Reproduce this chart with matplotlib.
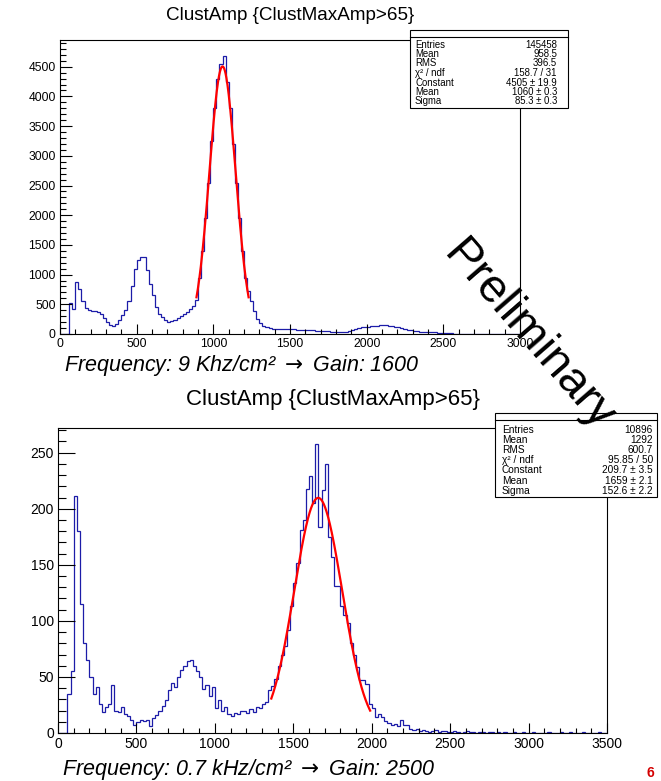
import numpy as np
import matplotlib
matplotlib.use("Agg")
import matplotlib.pyplot as plt
from matplotlib.patches import Rectangle
from matplotlib.lines import Line2D
from matplotlib.ticker import MultipleLocator

plt.rcParams['font.family'] = ['Liberation Sans', 'DejaVu Sans']

W, H = 661, 781

# ---- data: top histogram (bin width 20, 0..3000) ----
top_edges = np.arange(0, 3001, 20)
top_counts = [
    0, 0, 0, 520, 420, 880, 760, 560, 440, 400,
    395, 385, 370, 330, 270, 200, 145, 140, 170, 230,
    320, 400, 560, 800, 1100, 1250, 1300, 1290, 1080, 850,
    650, 460, 340, 280, 235, 210, 215, 240, 270, 300,
    330, 370, 420, 470, 580, 950, 1400, 1950, 2550, 3250,
    3800, 4300, 4550, 4680, 4250, 3800, 3200, 2550, 1950, 1400,
    950, 720, 560, 380, 260, 190, 140, 110, 95, 90,
    88, 86, 85, 84, 82, 80, 78, 75, 72, 70,
    66, 62, 60, 56, 52, 50, 48, 45, 42, 40,
    38, 36, 35, 38, 45, 60, 80, 100, 110, 120,
    125, 130, 135, 140, 145, 150, 145, 140, 130, 120,
    110, 95, 80, 70, 60, 52, 45, 40, 35, 32,
    30, 28, 26, 25, 24, 22, 18, 10, 4, 2,
    0, 0, 0, 0, 0, 0, 0, 0, 0, 0,
    0, 0, 0, 0, 0, 0, 0, 0, 0, 0,
]
top_fit = (4505, 1060, 85.3)
top_fit_range = (890, 1230)
top_stats = [("Entries", "145458"), ("Mean", "958.5"), ("RMS", "396.5"),
             ("χ² / ndf", "158.7 / 31"), ("Constant", "4505 ± 19.9"),
             ("Mean", "1060 ± 0.3"), ("Sigma", "85.3 ± 0.3")]

# ---- data: bottom histogram (bin width 20, 0..3500) ----
bot_edges = np.arange(0, 3501, 20)
bot_counts = [
    0, 0, 0, 35, 55, 211, 180, 115, 80, 65,
    50, 35, 41, 26, 19, 23, 26, 43, 20, 19,
    23, 17, 15, 12, 7, 10, 12, 11, 12, 6,
    13, 16, 20, 24, 29, 38, 45, 41, 50, 56,
    60, 64, 65, 60, 55, 50, 39, 43, 33, 41,
    22, 29, 20, 23, 17, 15, 18, 17, 20, 20,
    18, 21, 19, 23, 22, 26, 28, 38, 42, 48,
    60, 70, 78, 92, 113, 134, 152, 181, 190, 218,
    229, 205, 258, 184, 217, 240, 175, 157, 131, 131,
    113, 105, 98, 80, 70, 59, 47, 47, 44, 26,
    22, 14, 17, 14, 11, 9, 7, 8, 6, 12,
    7, 7, 4, 3, 4,
    2, 3, 2, 1, 2, 3, 1, 2, 2, 1,
    1, 2, 1, 0, 1, 2, 1, 1, 0, 1,
    1, 0, 1, 1, 0, 1, 0, 1, 0, 0,
    1, 0, 0, 1, 0, 0, 1, 0, 0, 0,
    0, 1, 0, 0, 0, 1, 0, 0, 1, 0,
    0, 0, 1, 0, 0, 0, 0, 1, 0, 0,
]
bot_fit = (209.7, 1659, 152.6)
bot_fit_range = (1360, 1990)
bot_stats = [("Entries", "10896"), ("Mean", "1292"), ("RMS", "600.7"),
             ("χ² / ndf", "95.85 / 50"), ("Constant", "209.7 ± 3.5"),
             ("Mean", "1659 ± 2.1"), ("Sigma", "152.6 ± 2.2")]

title = "ClustAmp {ClustMaxAmp>65}"
top_caption = "Frequency: 9 Khz/cm² $\\rightarrow$ Gain: 1600"
bot_caption = "Frequency: 0.7 kHz/cm² $\\rightarrow$ Gain: 2500"


def fx(x):
    return x / W


def fy(y):
    return 1 - y / H


def panel(fig, box, edges, counts, fit, fit_range, xlim, ylim, ymaj, ymin,
          lab_size, ylen):
    x0, y0, x1, y1 = box
    ax = fig.add_axes([fx(x0), fy(y1), (x1 - x0) / W, (y1 - y0) / H])
    ax.stairs(counts, edges, color='#1c1ca8', lw=0.9)
    c, m, s = fit
    xf = np.linspace(fit_range[0], fit_range[1], 300)
    ax.plot(xf, c * np.exp(-0.5 * ((xf - m) / s) ** 2), color='#ff0000', lw=1.6)
    ax.set_xlim(*xlim)
    ax.set_ylim(*ylim)
    ax.xaxis.set_major_locator(MultipleLocator(500))
    ax.xaxis.set_minor_locator(MultipleLocator(100))
    ax.yaxis.set_major_locator(MultipleLocator(ymaj))
    ax.yaxis.set_minor_locator(MultipleLocator(ymin))
    ax.tick_params(which='both', direction='in', top=False, right=False,
                   labelsize=lab_size, pad=3, width=0.8)
    ax.tick_params(axis='y', which='major', length=ylen)
    ax.tick_params(axis='y', which='minor', length=ylen / 2)
    ax.tick_params(axis='x', which='major', length=7)
    ax.tick_params(axis='x', which='minor', length=3.5)
    for sp in ax.spines.values():
        sp.set_linewidth(0.8)
    return ax


def stats_box(fig, x0, y0, x1, y1, ysep, rows, ystart, pitch, xl, xr, size):
    fig.add_artist(Rectangle((fx(x0), fy(y1)), (x1 - x0) / W, (y1 - y0) / H,
                             transform=fig.transFigure, facecolor='white',
                             edgecolor='black', lw=0.8, zorder=5))
    fig.add_artist(Line2D([fx(x0), fx(x1)], [fy(ysep), fy(ysep)],
                          transform=fig.transFigure, color='black', lw=0.8,
                          zorder=6))
    for i, (k, v) in enumerate(rows):
        yy = fy(ystart + i * pitch)
        fig.text(fx(xl), yy, k, fontsize=size, ha='left', va='center', zorder=7)
        fig.text(fx(xr), yy, v, fontsize=size, ha='right', va='center', zorder=7)


fig = plt.figure(figsize=(W / 100, H / 100), dpi=100)

panel(fig, (60, 40, 520, 334), top_edges, top_counts, top_fit, top_fit_range,
      (0, 3000), (0, 4950), 500, 100, 8.7, 8.5)
panel(fig, (58, 428, 607, 733), bot_edges, bot_counts, bot_fit, bot_fit_range,
      (0, 3500), (0, 272), 50, 10, 10, 12)

stats_box(fig, 410, 30, 568, 108, 37, top_stats, 44.5, 9.5, 415, 557, 6.9)
stats_box(fig, 495, 413, 657, 497, 420, bot_stats, 430, 10.1, 502, 653, 7.3)

fig.text(fx(290), fy(15), title, fontsize=13.6, ha='center', va='center')
fig.text(fx(333), fy(399), title, fontsize=16, ha='center', va='center')

fig.text(fx(64), fy(366), top_caption, fontsize=15.5, style='italic',
         ha='left', va='center')
fig.text(fx(62), fy(770), bot_caption, fontsize=15.5, style='italic',
         ha='left', va='center')

fig.text(fx(528), fy(336), "Preliminary", fontsize=34, rotation=-49,
         ha='center', va='center', rotation_mode='anchor', zorder=10)

fig.text(fx(650), fy(773), "6", fontsize=10, color='#d40000',
         fontweight='bold', ha='center', va='center')

fig.savefig("out.png", dpi=100)
